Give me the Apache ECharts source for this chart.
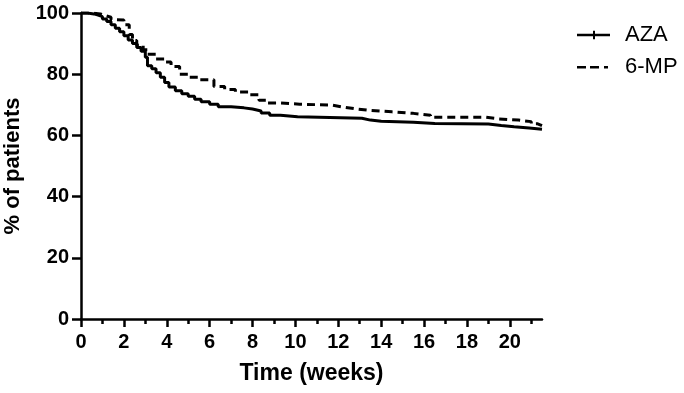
<!DOCTYPE html>
<html>
<head>
<meta charset="utf-8">
<script src="https://cdn.jsdelivr.net/npm/echarts@6/dist/echarts.min.js"></script>
<style>
  html, body { margin: 0; padding: 0; background: #fff; }
  #chart { width: 684px; height: 393px; }
</style>
</head>
<body>
<div id="chart"></div>
<script>
// Kaplan-Meier steps (weeks, % of patients)
const azaTime = [0, 0.3, 0.6, 0.8, 1.0, 1.2, 1.4, 1.6, 1.8, 2.0, 2.2, 2.4, 2.6, 2.8, 3.0, 3.1, 3.3, 3.5, 3.7, 3.9, 4.1, 4.4, 4.7, 5.0, 5.3, 5.6, 6.0, 6.4, 7.0, 7.6, 8.0, 8.4, 8.8, 9.3, 10.1, 13.1, 13.5, 14.0, 15.5, 16.5, 19.0, 19.6, 20.2, 20.9, 21.5]
const azaPct  = [100, 99.7, 99.3, 98.8, 98.0, 97.2, 96.2, 95.0, 93.9, 92.6, 91.2, 90.0, 88.7, 87.5, 85.5, 82.8, 81.8, 80.5, 79.0, 77.3, 75.8, 74.6, 73.6, 72.8, 71.8, 71.0, 70.2, 69.4, 69.0, 68.6, 68.0, 67.3, 66.6, 66.1, 65.6, 65.0, 64.6, 64.3, 63.9, 63.7, 63.2, 62.8, 62.4, 62.0, 62.0]

const mpTime = [0, 0.5, 0.9, 1.1, 1.4, 1.6, 2.0, 2.25, 2.4, 2.6, 2.9, 3.1, 3.5, 3.9, 4.2, 4.6, 5.0, 5.5, 6.2, 6.7, 7.2, 7.8, 8.3, 8.7, 9.3, 10.2, 11.7, 12.2, 12.8, 13.4, 14.5, 15.5, 16.3, 18.9, 19.5, 20.4, 21.0, 21.3, 21.5]
const mpPct  = [100, 99.7, 99.2, 98.6, 97.8, 97.7, 96.2, 93.0, 91.0, 89.5, 88.0, 86.5, 85.0, 84.0, 82.5, 80.0, 79.0, 78.2, 76.0, 75.0, 74.2, 73.3, 71.5, 70.6, 70.2, 69.9, 69.3, 68.7, 68.2, 67.7, 67.2, 66.6, 65.9, 65.4, 65.0, 64.5, 63.8, 63.2, 63.2]

const majorWeeks = [0, 2, 4, 6, 8, 10, 12, 14, 16, 18, 20]
const minorWeeks = [1, 3, 5, 7, 9, 11, 13, 15, 17, 19, 21]

const font = "'Liberation Sans', Arial, sans-serif"
const zip = (a, b) => a.map((v, i) => [v, b[i]])

// legend keys: solid line with a censor tick, and dash-dash-dot
const azaIcon = 'path://M0,6H33V8.6H0Z M16,3H18V11.6H16Z'
const mpIcon = 'path://M0,6H9V8.6H0Z M13,6H22V8.6H13Z M27,6H31V8.6H27Z M0,0H0.01V0.01H0Z M33,14H32.99V13.99H33Z'

let chart = echarts.init(document.getElementById('chart'))
let option = {
  animation: false,
  backgroundColor: '#fff',
  grid: { left: 81, right: 142, top: 13, bottom: 74, outerBoundsMode: 'none' },
  legend: {
    orient: 'vertical',
    left: 572, top: 19,
    itemWidth: 33, itemHeight: 14, itemGap: 10,
    textStyle: { fontFamily: font, fontSize: 22, color: '#000', padding: [0, 0, 0, 10] },
    data: [{ name: 'AZA', icon: azaIcon }, { name: '6-MP', icon: mpIcon }]
  },
  xAxis: [{
    type: 'value', min: 0, max: 21.5,
    name: 'Time (weeks)', nameLocation: 'middle', nameGap: 43,
    nameTextStyle: { fontFamily: font, fontSize: 23, fontWeight: 'bold', color: '#000' },
    splitLine: { show: false },
    axisLine: { onZero: false, lineStyle: { color: '#000', width: 2.5 } },
    axisTick: { customValues: majorWeeks, length: 8, lineStyle: { color: '#000', width: 2.5 } },
    axisLabel: { customValues: majorWeeks, margin: 13, fontFamily: font, fontSize: 20, fontWeight: 'bold', color: '#000' }
  }, {
    // odd weeks: short ticks only
    type: 'value', min: 0, max: 21.5, position: 'bottom',
    splitLine: { show: false },
    axisLine: { show: false },
    axisTick: { customValues: minorWeeks, length: 5, lineStyle: { color: '#000', width: 2.5 } },
    axisLabel: { show: false }
  }],
  yAxis: {
    type: 'value', min: 0, max: 100, interval: 20,
    name: '% of patients', nameLocation: 'middle', nameGap: 57,
    nameTextStyle: { fontFamily: font, fontSize: 22, fontWeight: 'bold', color: '#000' },
    splitLine: { show: false },
    axisLine: { onZero: false, lineStyle: { color: '#000', width: 2.5 } },
    axisTick: { length: 9, lineStyle: { color: '#000', width: 2.5 } },
    axisLabel: { margin: 12, fontFamily: font, fontSize: 20, fontWeight: 'bold', color: '#000' }
  },
  series: [{
    name: 'AZA', type: 'line', step: 'end',
    data: zip(azaTime, azaPct),
    symbol: 'none',
    itemStyle: { color: '#000' },
    lineStyle: { color: '#000', width: 3 }
  }, {
    name: '6-MP', type: 'line', step: 'end',
    data: zip(mpTime, mpPct),
    symbol: 'none',
    itemStyle: { color: '#000' },
    lineStyle: { color: '#000', width: 3, type: [8, 5] }
  }]
}
chart.setOption(option)
</script>
</body>
</html>
